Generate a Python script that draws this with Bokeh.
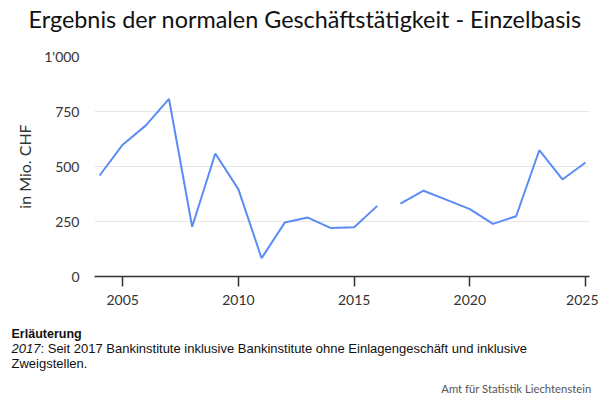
import numpy as np
from bokeh.plotting import figure
from bokeh.layouts import column
from bokeh.models import Label, FixedTicker, CustomJSTickFormatter, Range1d
from bokeh.embed import file_html
from bokeh.resources import INLINE

years = list(range(2004, 2026))
values = [459, 599, 687, 807, 226, 559, 396, 83, 245, 268, 220, 224, 321,
          331, 390, 348, 306, 239, 274, 574, 441, 518]
break_after = 2016  # series break between 2016 and 2017

y_ticks = [0, 250, 500, 750, 1000]
x_ticks = [2005, 2010, 2015, 2020, 2025]

title_text = "Ergebnis der normalen Geschäftstätigkeit - Einzelbasis"
y_label = "in Mio. CHF"
note_head = "Erläuterung"
note_year = "2017"
note_line1 = ": Seit 2017 Bankinstitute inklusive Bankinstitute ohne Einlagengeschäft und inklusive"
note_line2 = "Zweigstellen."
source_text = "Amt für Statistik Liechtenstein"

FONT = "Lato"
W = 598
H_HEAD, H_MAIN, H_FOOT = 44, 276, 78


def blank(h):
    f = figure(width=W, height=h, output_backend="svg", toolbar_location=None,
               x_range=Range1d(0, W), y_range=Range1d(0, h),
               min_border=0, min_border_left=0, min_border_right=0,
               min_border_top=0, min_border_bottom=0, frame_align=False)
    f.axis.visible = False
    f.grid.visible = False
    f.outline_line_color = None
    f.background_fill_color = "white"
    f.border_fill_color = "white"
    return f


def lab(fig, text, x, y, size, font, color="#111111", style="normal", align="left"):
    fig.add_layout(Label(x=x, y=y, x_units="screen", y_units="screen",
                         text=text, text_font=font, text_font_size=size,
                         text_color=color, text_font_style=style, text_align=align,
                         text_baseline="alphabetic"))


# header
head = blank(H_HEAD)
lab(head, title_text, 28, H_HEAD - 18.5, "23.4px", FONT, "#111111")

# main plot
p = figure(width=W, height=H_MAIN, output_backend="svg", toolbar_location=None,
           x_range=Range1d(2003.78, 2025.17), y_range=Range1d(0, 1000),
           min_border_left=94, min_border_right=W - 589, min_border_top=12,
           min_border_bottom=H_MAIN - 232)
p.outline_line_color = None
p.background_fill_color = "white"
p.border_fill_color = "white"

xs, ys = [], []
for yr, v in zip(years, values):
    xs.append(yr)
    ys.append(v)
    if yr == break_after:
        xs.append(np.nan)
        ys.append(np.nan)
p.line(xs, ys, line_color="#5b8cf5", line_width=2)

p.xaxis.ticker = FixedTicker(ticks=x_ticks)
p.yaxis.ticker = FixedTicker(ticks=y_ticks)
p.yaxis.formatter = CustomJSTickFormatter(code="""
const s = Math.round(tick).toString();
return s.replace(/\\B(?=(\\d{3})+(?!\\d))/g, "'");
""")
for ax in (p.xaxis[0], p.yaxis[0]):
    ax.major_label_text_font = FONT
    ax.major_label_text_font_size = "14px"
    ax.major_label_text_color = "#333333"
    ax.minor_tick_line_color = None
p.xaxis.axis_line_color = "#333333"
p.xaxis.axis_line_width = 1.5
p.xaxis.major_tick_line_color = "#333333"
p.xaxis.major_tick_line_width = 1.5
p.xaxis.major_tick_out = 10
p.xaxis.major_tick_in = 0
p.xaxis.major_label_standoff = 8
p.yaxis.axis_line_color = None
p.yaxis.major_tick_line_color = None
p.yaxis.major_tick_out = 0
p.yaxis.major_tick_in = 0
p.yaxis.major_label_standoff = 15
p.yaxis.axis_label = y_label
p.yaxis.axis_label_text_font = FONT
p.yaxis.axis_label_text_font_size = "16px"
p.yaxis.axis_label_text_font_style = "normal"
p.yaxis.axis_label_text_color = "#333333"
p.yaxis.axis_label_standoff = 7

p.xgrid.grid_line_color = None
p.ygrid.grid_line_color = "#e6e6e6"
p.ygrid.grid_line_width = 1

# footer (top of footer at page y=320)
foot = blank(H_FOOT)
top = 324
lab(foot, note_head, 11, H_FOOT - (337 - top), "12.5px", "Liberation Sans", "#111111", "bold")
lab(foot, note_year, 11, H_FOOT - (352 - top), "13px", "Liberation Sans", "#111111", "italic")
lab(foot, note_line1, 40, H_FOOT - (352 - top), "13px", "Liberation Sans", "#111111")
lab(foot, note_line2, 11, H_FOOT - (367 - top), "13px", "Liberation Sans", "#111111")
lab(foot, source_text, 591, H_FOOT - (392 - top), "11.3px", FONT, "#555555", align="right")

layout = column(head, p, foot, spacing=0)
open("out.html", "w").write(file_html(layout, INLINE))
